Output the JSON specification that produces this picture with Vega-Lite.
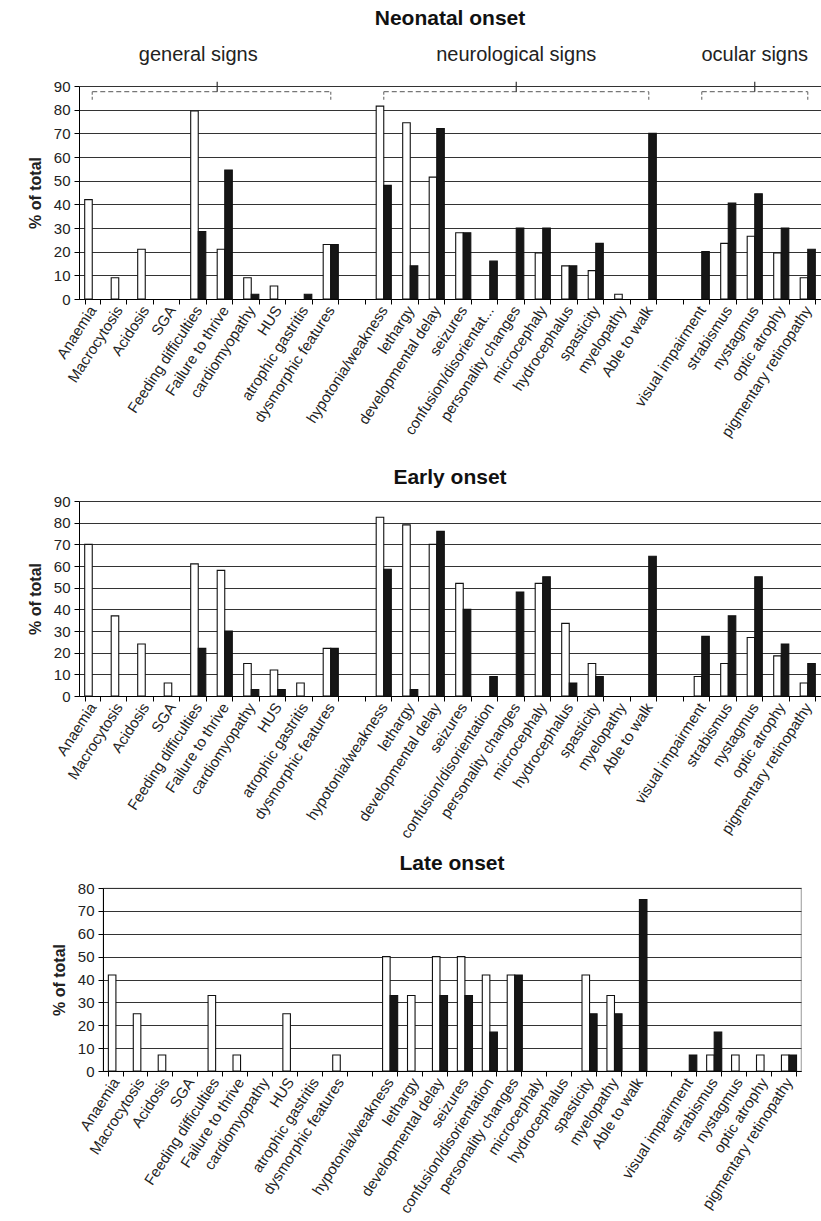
{
  "$schema": "https://vega.github.io/schema/vega-lite/v6.json",
  "padding": {"left": 27, "top": 8, "right": 0, "bottom": 0},
  "spacing": 11,
  "config": {
    "font": "Liberation Sans",
    "view": {"stroke": null},
    "title": {"fontSize": 21, "fontWeight": "bold", "color": "#111"},
    "axisX": {"labelAngle": -57, "labelFontSize": 15, "labelColor": "#222", "tickBand": "extent", "tickSize": 5, "labelPadding": 3, "domainColor": "#000", "tickColor": "#000"},
    "axisY": {"titleFontSize": 16, "titleFontWeight": "bold", "titleColor": "#222", "titlePadding": 10, "labelFontSize": 15, "labelColor": "#222", "labelPadding": 4, "tickSize": 5, "tickColor": "#000", "domainColor": "#000", "grid": true, "gridWidth": 1.2, "gridColor": "#333333"}
  },
  "datasets": {
    "bars": [
      {"p": "N", "cat": "Anaemia", "s": "W", "value": 42},
      {"p": "N", "cat": "Macrocytosis", "s": "W", "value": 9},
      {"p": "N", "cat": "Acidosis", "s": "W", "value": 21},
      {"p": "N", "cat": "Feeding difficulties", "s": "W", "value": 79.5},
      {"p": "N", "cat": "Feeding difficulties", "s": "B", "value": 28.5},
      {"p": "N", "cat": "Failure to thrive", "s": "W", "value": 21},
      {"p": "N", "cat": "Failure to thrive", "s": "B", "value": 54.5},
      {"p": "N", "cat": "cardiomyopathy", "s": "W", "value": 9},
      {"p": "N", "cat": "cardiomyopathy", "s": "B", "value": 2},
      {"p": "N", "cat": "HUS", "s": "W", "value": 5.5},
      {"p": "N", "cat": "atrophic gastritis", "s": "B", "value": 2},
      {"p": "N", "cat": "dysmorphic features", "s": "W", "value": 23},
      {"p": "N", "cat": "dysmorphic features", "s": "B", "value": 23},
      {"p": "N", "cat": "hypotonia/weakness", "s": "W", "value": 81.5},
      {"p": "N", "cat": "hypotonia/weakness", "s": "B", "value": 48},
      {"p": "N", "cat": "lethargy", "s": "W", "value": 74.5},
      {"p": "N", "cat": "lethargy", "s": "B", "value": 14},
      {"p": "N", "cat": "developmental delay", "s": "W", "value": 51.5},
      {"p": "N", "cat": "developmental delay", "s": "B", "value": 72},
      {"p": "N", "cat": "seizures", "s": "W", "value": 28},
      {"p": "N", "cat": "seizures", "s": "B", "value": 28},
      {"p": "N", "cat": "confusion/disorientat...", "s": "B", "value": 16},
      {"p": "N", "cat": "personality changes", "s": "B", "value": 30},
      {"p": "N", "cat": "microcephaly", "s": "W", "value": 19.5},
      {"p": "N", "cat": "microcephaly", "s": "B", "value": 30},
      {"p": "N", "cat": "hydrocephalus", "s": "W", "value": 14},
      {"p": "N", "cat": "hydrocephalus", "s": "B", "value": 14},
      {"p": "N", "cat": "spasticity", "s": "W", "value": 12},
      {"p": "N", "cat": "spasticity", "s": "B", "value": 23.5},
      {"p": "N", "cat": "myelopathy", "s": "W", "value": 2},
      {"p": "N", "cat": "Able to walk", "s": "B", "value": 70},
      {"p": "N", "cat": "visual impairment", "s": "B", "value": 20},
      {"p": "N", "cat": "strabismus", "s": "W", "value": 23.5},
      {"p": "N", "cat": "strabismus", "s": "B", "value": 40.5},
      {"p": "N", "cat": "nystagmus", "s": "W", "value": 26.5},
      {"p": "N", "cat": "nystagmus", "s": "B", "value": 44.5},
      {"p": "N", "cat": "optic atrophy", "s": "W", "value": 19.5},
      {"p": "N", "cat": "optic atrophy", "s": "B", "value": 30},
      {"p": "N", "cat": "pigmentary retinopathy", "s": "W", "value": 9},
      {"p": "N", "cat": "pigmentary retinopathy", "s": "B", "value": 21},
      {"p": "E", "cat": "Anaemia", "s": "W", "value": 70},
      {"p": "E", "cat": "Macrocytosis", "s": "W", "value": 37},
      {"p": "E", "cat": "Acidosis", "s": "W", "value": 24},
      {"p": "E", "cat": "SGA", "s": "W", "value": 6},
      {"p": "E", "cat": "Feeding difficulties", "s": "W", "value": 61},
      {"p": "E", "cat": "Feeding difficulties", "s": "B", "value": 22},
      {"p": "E", "cat": "Failure to thrive", "s": "W", "value": 58},
      {"p": "E", "cat": "Failure to thrive", "s": "B", "value": 30},
      {"p": "E", "cat": "cardiomyopathy", "s": "W", "value": 15},
      {"p": "E", "cat": "cardiomyopathy", "s": "B", "value": 3},
      {"p": "E", "cat": "HUS", "s": "W", "value": 12},
      {"p": "E", "cat": "HUS", "s": "B", "value": 3},
      {"p": "E", "cat": "atrophic gastritis", "s": "W", "value": 6},
      {"p": "E", "cat": "dysmorphic features", "s": "W", "value": 22},
      {"p": "E", "cat": "dysmorphic features", "s": "B", "value": 22},
      {"p": "E", "cat": "hypotonia/weakness", "s": "W", "value": 82.5},
      {"p": "E", "cat": "hypotonia/weakness", "s": "B", "value": 58.5},
      {"p": "E", "cat": "lethargy", "s": "W", "value": 79},
      {"p": "E", "cat": "lethargy", "s": "B", "value": 3},
      {"p": "E", "cat": "developmental delay", "s": "W", "value": 70},
      {"p": "E", "cat": "developmental delay", "s": "B", "value": 76},
      {"p": "E", "cat": "seizures", "s": "W", "value": 52},
      {"p": "E", "cat": "seizures", "s": "B", "value": 40},
      {"p": "E", "cat": "confusion/disorientation", "s": "B", "value": 9},
      {"p": "E", "cat": "personality changes", "s": "B", "value": 48},
      {"p": "E", "cat": "microcephaly", "s": "W", "value": 52},
      {"p": "E", "cat": "microcephaly", "s": "B", "value": 55},
      {"p": "E", "cat": "hydrocephalus", "s": "W", "value": 33.5},
      {"p": "E", "cat": "hydrocephalus", "s": "B", "value": 6},
      {"p": "E", "cat": "spasticity", "s": "W", "value": 15},
      {"p": "E", "cat": "spasticity", "s": "B", "value": 9},
      {"p": "E", "cat": "Able to walk", "s": "B", "value": 64.5},
      {"p": "E", "cat": "visual impairment", "s": "W", "value": 9},
      {"p": "E", "cat": "visual impairment", "s": "B", "value": 27.5},
      {"p": "E", "cat": "strabismus", "s": "W", "value": 15},
      {"p": "E", "cat": "strabismus", "s": "B", "value": 37},
      {"p": "E", "cat": "nystagmus", "s": "W", "value": 27},
      {"p": "E", "cat": "nystagmus", "s": "B", "value": 55},
      {"p": "E", "cat": "optic atrophy", "s": "W", "value": 18.5},
      {"p": "E", "cat": "optic atrophy", "s": "B", "value": 24},
      {"p": "E", "cat": "pigmentary retinopathy", "s": "W", "value": 6},
      {"p": "E", "cat": "pigmentary retinopathy", "s": "B", "value": 15},
      {"p": "L", "cat": "Anaemia", "s": "W", "value": 42},
      {"p": "L", "cat": "Macrocytosis", "s": "W", "value": 25},
      {"p": "L", "cat": "Acidosis", "s": "W", "value": 7},
      {"p": "L", "cat": "Feeding difficulties", "s": "W", "value": 33},
      {"p": "L", "cat": "Failure to thrive", "s": "W", "value": 7},
      {"p": "L", "cat": "HUS", "s": "W", "value": 25},
      {"p": "L", "cat": "dysmorphic features", "s": "W", "value": 7},
      {"p": "L", "cat": "hypotonia/weakness", "s": "W", "value": 50},
      {"p": "L", "cat": "hypotonia/weakness", "s": "B", "value": 33},
      {"p": "L", "cat": "lethargy", "s": "W", "value": 33},
      {"p": "L", "cat": "developmental delay", "s": "W", "value": 50},
      {"p": "L", "cat": "developmental delay", "s": "B", "value": 33},
      {"p": "L", "cat": "seizures", "s": "W", "value": 50},
      {"p": "L", "cat": "seizures", "s": "B", "value": 33},
      {"p": "L", "cat": "confusion/disorientation", "s": "W", "value": 42},
      {"p": "L", "cat": "confusion/disorientation", "s": "B", "value": 17},
      {"p": "L", "cat": "personality changes", "s": "W", "value": 42},
      {"p": "L", "cat": "personality changes", "s": "B", "value": 42},
      {"p": "L", "cat": "spasticity", "s": "W", "value": 42},
      {"p": "L", "cat": "spasticity", "s": "B", "value": 25},
      {"p": "L", "cat": "myelopathy", "s": "W", "value": 33},
      {"p": "L", "cat": "myelopathy", "s": "B", "value": 25},
      {"p": "L", "cat": "Able to walk", "s": "B", "value": 75},
      {"p": "L", "cat": "visual impairment", "s": "B", "value": 7},
      {"p": "L", "cat": "strabismus", "s": "W", "value": 7},
      {"p": "L", "cat": "strabismus", "s": "B", "value": 17},
      {"p": "L", "cat": "nystagmus", "s": "W", "value": 7},
      {"p": "L", "cat": "optic atrophy", "s": "W", "value": 7},
      {"p": "L", "cat": "pigmentary retinopathy", "s": "W", "value": 7},
      {"p": "L", "cat": "pigmentary retinopathy", "s": "B", "value": 7}
    ],
    "brackets": [
      {"k": "h", "cat": "Anaemia", "cat2": "dysmorphic features", "value": 87.6},
      {"k": "h", "cat": "hypotonia/weakness", "cat2": "Able to walk", "value": 87.6},
      {"k": "h", "cat": "visual impairment", "cat2": "pigmentary retinopathy", "value": 87.6},
      {"k": "v", "cat": "Anaemia", "value": 87.6, "value2": 83.5},
      {"k": "v", "cat": "hypotonia/weakness", "value": 87.6, "value2": 83.5},
      {"k": "v", "cat": "visual impairment", "value": 87.6, "value2": 83.5},
      {"k": "v", "cat": "dysmorphic features", "value": 87.6, "value2": 83.5},
      {"k": "v", "cat": "Able to walk", "value": 87.6, "value2": 83.5},
      {"k": "v", "cat": "pigmentary retinopathy", "value": 87.6, "value2": 83.5},
      {"k": "m0", "cat": "Failure to thrive", "value": 87.6, "value2": 91.8},
      {"k": "m", "cat": "personality changes", "value": 87.6, "value2": 91.8},
      {"k": "m", "cat": "nystagmus", "value": 87.6, "value2": 91.8},
      {"k": "t", "cat": "Feeding difficulties", "label": "general signs", "value": 103},
      {"k": "t", "cat": "personality changes", "label": "neurological signs", "value": 103},
      {"k": "t", "cat": "nystagmus", "label": "ocular signs", "value": 103}
    ]
  },
  "vconcat": [
    {
      "title": {"text": "Neonatal onset", "offset": 16},
      "width": 742,
      "height": 213,
      "encoding": {
        "x": {"field": "cat", "type": "nominal",
          "scale": {"domain": ["Anaemia","Macrocytosis","Acidosis","SGA","Feeding difficulties","Failure to thrive","cardiomyopathy","HUS","atrophic gastritis","dysmorphic features"," ","hypotonia/weakness","lethargy","developmental delay","seizures","confusion/disorientat...","personality changes","microcephaly","hydrocephalus","spasticity","myelopathy","Able to walk","  ","visual impairment","strabismus","nystagmus","optic atrophy","pigmentary retinopathy"], "paddingInner": 0.43, "paddingOuter": 0.215},
          "axis": {"title": " ", "titleFontSize": 9, "titlePadding": 7}},
        "y": {"field": "value", "type": "quantitative", "scale": {"domain": [0, 90], "nice": false},
          "axis": {"title": "% of total", "values": [0,10,20,30,40,50,60,70,80,90]}}
      },
      "layer": [
        {
          "data": {"name": "bars"},
          "transform": [{"filter": "datum.p == 'N'"}],
          "mark": {"type": "bar", "stroke": "#111", "strokeWidth": 1.1},
          "encoding": {
            "xOffset": {"field": "s", "type": "nominal", "scale": {"domain": ["W", "B"]}},
            "fill": {"field": "s", "type": "nominal", "scale": {"domain": ["W", "B"], "range": ["#ffffff", "#161616"]}, "legend": null}
          }
        },
        {
          "data": {"name": "brackets"},
          "transform": [{"filter": "datum.k == 'h'"}],
          "mark": {"type": "rule", "stroke": "#777", "strokeWidth": 1.2, "strokeDash": [5, 3]},
          "encoding": {"x2": {"field": "cat2"}}
        },
        {
          "data": {"name": "brackets"},
          "transform": [{"filter": "datum.k == 'v'"}],
          "mark": {"type": "rule", "stroke": "#777", "strokeWidth": 1.2, "strokeDash": [3, 2]},
          "encoding": {"y2": {"field": "value2"}}
        },
        {
          "data": {"name": "brackets"},
          "transform": [{"filter": "datum.k == 'm0'"}],
          "mark": {"type": "rule", "stroke": "#333", "strokeWidth": 1.2},
          "encoding": {
            "x": {"field": "cat", "type": "nominal", "bandPosition": 0,
              "scale": {"domain": ["Anaemia","Macrocytosis","Acidosis","SGA","Feeding difficulties","Failure to thrive","cardiomyopathy","HUS","atrophic gastritis","dysmorphic features"," ","hypotonia/weakness","lethargy","developmental delay","seizures","confusion/disorientat...","personality changes","microcephaly","hydrocephalus","spasticity","myelopathy","Able to walk","  ","visual impairment","strabismus","nystagmus","optic atrophy","pigmentary retinopathy"], "paddingInner": 0.43, "paddingOuter": 0.215}},
            "y2": {"field": "value2"}
          }
        },
        {
          "data": {"name": "brackets"},
          "transform": [{"filter": "datum.k == 'm'"}],
          "mark": {"type": "rule", "stroke": "#333", "strokeWidth": 1.2},
          "encoding": {"y2": {"field": "value2"}}
        },
        {
          "data": {"name": "brackets"},
          "transform": [{"filter": "datum.k == 't'"}],
          "mark": {"type": "text", "fontSize": 20, "color": "#222", "baseline": "middle", "align": "center"},
          "encoding": {"text": {"field": "label"}}
        }
      ]
    },
    {
      "title": {"text": "Early onset", "offset": 6},
      "width": 742,
      "height": 195,
      "data": {"name": "bars"},
      "transform": [{"filter": "datum.p == 'E'"}],
      "mark": {"type": "bar", "stroke": "#111", "strokeWidth": 1.1},
      "encoding": {
        "x": {"field": "cat", "type": "nominal",
          "scale": {"domain": ["Anaemia","Macrocytosis","Acidosis","SGA","Feeding difficulties","Failure to thrive","cardiomyopathy","HUS","atrophic gastritis","dysmorphic features"," ","hypotonia/weakness","lethargy","developmental delay","seizures","confusion/disorientation","personality changes","microcephaly","hydrocephalus","spasticity","myelopathy","Able to walk","  ","visual impairment","strabismus","nystagmus","optic atrophy","pigmentary retinopathy"], "paddingInner": 0.43, "paddingOuter": 0.215},
          "axis": {"title": null}},
        "xOffset": {"field": "s", "type": "nominal", "scale": {"domain": ["W", "B"]}},
        "y": {"field": "value", "type": "quantitative", "scale": {"domain": [0, 90], "nice": false},
          "axis": {"title": "% of total", "values": [0,10,20,30,40,50,60,70,80,90]}},
        "fill": {"field": "s", "type": "nominal", "scale": {"domain": ["W", "B"], "range": ["#ffffff", "#161616"]}, "legend": null}
      }
    },
    {
      "spacing": -30,
      "hconcat": [
        {
          "width": 1,
          "height": 20,
          "data": {"values": [{"a": 1}]},
          "mark": {"type": "point", "opacity": 0, "size": 1},
          "encoding": {}
        },
        {
          "title": {"text": "Late onset", "offset": 7},
          "width": 698,
          "height": 183,
          "view": {"stroke": "#aaaaaa", "strokeWidth": 1.2},
          "data": {"name": "bars"},
          "transform": [{"filter": "datum.p == 'L'"}],
          "mark": {"type": "bar", "stroke": "#111", "strokeWidth": 1.1},
          "encoding": {
            "x": {"field": "cat", "type": "nominal",
              "scale": {"domain": ["Anaemia","Macrocytosis","Acidosis","SGA","Feeding difficulties","Failure to thrive","cardiomyopathy","HUS","atrophic gastritis","dysmorphic features"," ","hypotonia/weakness","lethargy","developmental delay","seizures","confusion/disorientation","personality changes","microcephaly","hydrocephalus","spasticity","myelopathy","Able to walk","  ","visual impairment","strabismus","nystagmus","optic atrophy","pigmentary retinopathy"], "paddingInner": 0.43, "paddingOuter": 0.215},
              "axis": {"title": null}},
            "xOffset": {"field": "s", "type": "nominal", "scale": {"domain": ["W", "B"]}},
            "y": {"field": "value", "type": "quantitative", "scale": {"domain": [0, 80], "nice": false},
              "axis": {"title": "% of total", "values": [0,10,20,30,40,50,60,70,80]}},
            "fill": {"field": "s", "type": "nominal", "scale": {"domain": ["W", "B"], "range": ["#ffffff", "#161616"]}, "legend": null}
          }
        }
      ]
    }
  ]
}
